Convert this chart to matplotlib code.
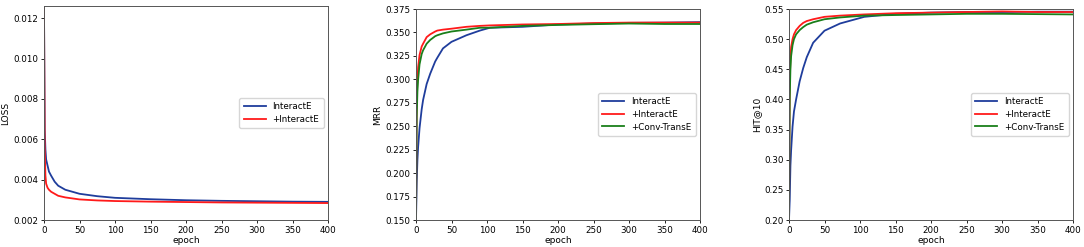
import matplotlib
matplotlib.use("Agg")
import matplotlib.pyplot as plt
import numpy as np

# ---- data (sparse epochs) ----
loss_epochs = [0, 1, 2, 3, 5, 7, 10, 15, 20, 30, 50, 75, 100, 150, 200, 250, 300, 350, 400]
loss_interacte = [0.0125, 0.0065, 0.0055, 0.0050, 0.0047, 0.0044, 0.0042, 0.0039, 0.0037, 0.0035,
                  0.0033, 0.00318, 0.0031, 0.00303, 0.00298, 0.00295, 0.00293, 0.00291, 0.0029]
loss_plus_interacte = [0.0125, 0.0055, 0.0042, 0.0038, 0.0036, 0.0035, 0.0034, 0.0033, 0.0032, 0.00312,
                       0.00302, 0.00297, 0.00294, 0.00291, 0.00289, 0.00287, 0.00286, 0.00285, 0.00284]

mrr_epochs = [0, 1, 2, 3, 5, 8, 10, 15, 20, 27, 30, 38, 50, 71, 90, 104, 150, 200, 250, 300, 350, 400]
mrr_interacte = [0.150, 0.190, 0.214, 0.228, 0.248, 0.268, 0.278, 0.295, 0.306, 0.319, 0.323, 0.333,
                 0.340, 0.347, 0.352, 0.355, 0.356, 0.3585, 0.3595, 0.3602, 0.3605, 0.361]
mrr_plus_interacte = [0.150, 0.278, 0.300, 0.313, 0.326, 0.335, 0.338, 0.345, 0.348, 0.351, 0.352, 0.353,
                      0.354, 0.356, 0.357, 0.3575, 0.3585, 0.359, 0.360, 0.3605, 0.3605, 0.3605]
mrr_conv_transe = [0.150, 0.260, 0.287, 0.300, 0.316, 0.327, 0.331, 0.338, 0.342, 0.346, 0.347, 0.349,
                   0.351, 0.353, 0.355, 0.355, 0.357, 0.358, 0.3588, 0.3595, 0.359, 0.359]

hit_epochs = [0, 1, 2, 3, 5, 7, 10, 15, 20, 25, 34, 50, 72, 106, 150, 200, 250, 300, 350, 400]
hit_interacte = [0.200, 0.233, 0.290, 0.316, 0.355, 0.380, 0.400, 0.430, 0.452, 0.470, 0.494,
                 0.514, 0.526, 0.537, 0.542, 0.544, 0.545, 0.545, 0.5455, 0.5455]
hit_plus_interacte = [0.200, 0.420, 0.470, 0.487, 0.500, 0.508, 0.515, 0.522, 0.527, 0.530, 0.533,
                      0.537, 0.539, 0.541, 0.543, 0.544, 0.545, 0.546, 0.545, 0.545]
hit_conv_transe = [0.200, 0.400, 0.450, 0.472, 0.490, 0.500, 0.508, 0.515, 0.520, 0.524, 0.528,
                   0.533, 0.536, 0.539, 0.540, 0.541, 0.542, 0.542, 0.5415, 0.541]

labels3 = ["InteractE", "+InteractE", "+Conv-TransE"]
BLUE = "#1f3d9c"
RED = "#ff1a1a"
GREEN = "#1a7f1a"

plt.rcParams['font.family'] = ['DejaVu Sans']
fig = plt.figure(figsize=(10.84, 2.47), dpi=100)

fs_tick = 6.3
fs_label = 6.5
fs_leg = 6.3

def style(ax, ylabel):
    ax.set_xlim(0, 400)
    ax.set_xticks(range(0, 401, 50))
    ax.set_xlabel("epoch", fontsize=fs_label, labelpad=1)
    ax.set_ylabel(ylabel, fontsize=fs_label, labelpad=2)
    ax.tick_params(labelsize=fs_tick, length=2.5, width=0.6, pad=1.5)
    for s in ax.spines.values():
        s.set_linewidth(0.7)
        s.set_color("#555555")

lw = 1.3

ax1 = fig.add_axes([44/1084, 1-220/247, 284/1084, 214/247])
ax1.plot(loss_epochs, loss_interacte, color=BLUE, lw=lw, label=labels3[0])
ax1.plot(loss_epochs, loss_plus_interacte, color=RED, lw=lw, label=labels3[1])
ax1.set_ylim(0.002, 0.01261)
ax1.set_yticks([0.002, 0.004, 0.006, 0.008, 0.010, 0.012])
ax1.set_yticklabels(["0.002", "0.004", "0.006", "0.008", "0.010", "0.012"])
style(ax1, "LOSS")
ax1.legend(loc="center right", fontsize=fs_leg, handlelength=2.5, borderpad=0.5, labelspacing=0.4)

ax2 = fig.add_axes([416/1084, 1-220/247, 284/1084, 211/247])
ax2.plot(mrr_epochs, mrr_interacte, color=BLUE, lw=lw, label=labels3[0])
ax2.plot(mrr_epochs, mrr_plus_interacte, color=RED, lw=lw, label=labels3[1])
ax2.plot(mrr_epochs, mrr_conv_transe, color=GREEN, lw=lw, label=labels3[2])
ax2.set_ylim(0.15, 0.375)
ax2.set_yticks(np.arange(0.15, 0.3751, 0.025))
ax2.set_yticklabels([f"{v:.3f}" for v in np.arange(0.15, 0.3751, 0.025)])
style(ax2, "MRR")
ax2.legend(loc="center right", fontsize=fs_leg, handlelength=2.5, borderpad=0.5, labelspacing=0.4)

ax3 = fig.add_axes([789/1084, 1-220/247, 284/1084, 211/247])
ax3.plot(hit_epochs, hit_interacte, color=BLUE, lw=lw, label=labels3[0])
ax3.plot(hit_epochs, hit_plus_interacte, color=RED, lw=lw, label=labels3[1])
ax3.plot(hit_epochs, hit_conv_transe, color=GREEN, lw=lw, label=labels3[2])
ax3.set_ylim(0.20, 0.55)
ax3.set_yticks(np.arange(0.20, 0.5501, 0.05))
ax3.set_yticklabels([f"{v:.2f}" for v in np.arange(0.20, 0.5501, 0.05)])
style(ax3, "HIT@10")
ax3.legend(loc="center right", fontsize=fs_leg, handlelength=2.5, borderpad=0.5, labelspacing=0.4)

fig.savefig("out.png", dpi=100)
